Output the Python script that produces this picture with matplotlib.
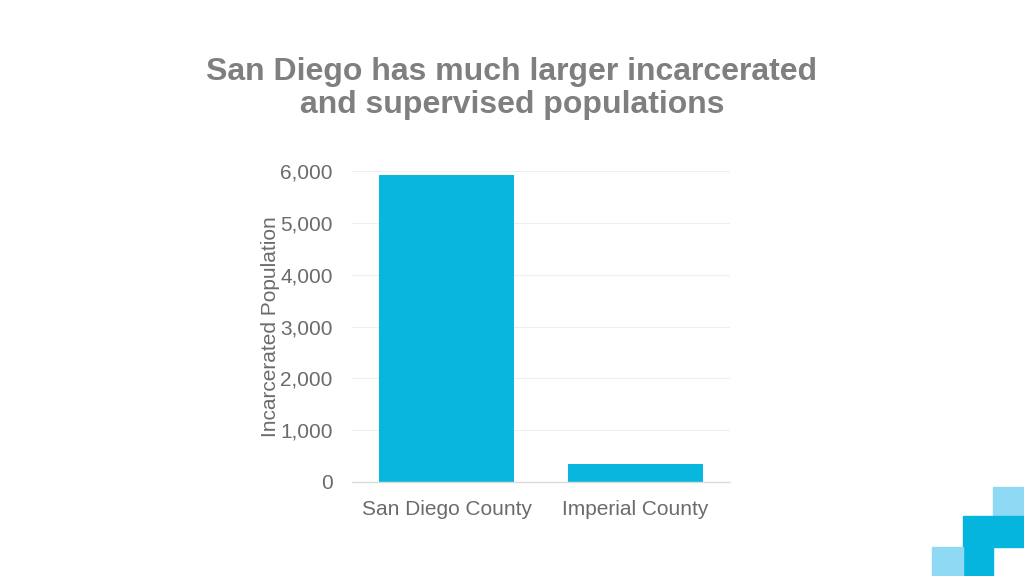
import matplotlib.pyplot as plt
from matplotlib.patches import Rectangle

# data
counties = ['San Diego County', 'Imperial County']
incarcerated = [5920, 345]
yticks = [0, 1000, 2000, 3000, 4000, 5000, 6000]

bar_color = '#08b6de'
text_gray = '#6b6b6b'

plt.rcParams['font.family'] = ['Liberation Sans', 'DejaVu Sans']

fig = plt.figure(figsize=(10.24, 5.76), dpi=100)
ax = fig.add_axes([0.3438, 0.1632, 0.3691, 0.5399])

ax.bar(range(len(counties)), incarcerated, width=0.714, color=bar_color, zorder=2)

ax.set_xlim(-0.5, 1.5)
ax.set_ylim(0, 6000)
ax.set_yticks(yticks)
ax.set_yticklabels([f'{v:,}' for v in yticks])
ax.set_xticks(range(len(counties)))
ax.set_xticklabels(counties)
ax.tick_params(axis='y', length=0, pad=14, labelsize=15, labelcolor=text_gray)
ax.tick_params(axis='x', length=0, pad=13, labelsize=15, labelcolor=text_gray)
ax.grid(axis='y', color='#efefef', linewidth=0.8, zorder=0)
for s in ['top', 'right', 'left']:
    ax.spines[s].set_visible(False)
ax.spines['bottom'].set_color('#dcdcdc')
ax.spines['bottom'].set_linewidth(1)
ax.set_ylabel('Incarcerated Population', fontsize=15, color=text_gray, labelpad=0)

fig.text(0.5, 0.847, 'San Diego has much larger incarcerated\nand supervised populations',
         ha='center', va='center', fontsize=23, fontweight='bold', color='#7f7f7f',
         linespacing=1.12)

# corner decoration
W, H = 1024, 576
def square(x0, y0, x1, y1, c):
    fig.patches.append(Rectangle((x0 / W, 1 - y1 / H), (x1 - x0) / W, (y1 - y0) / H,
                                 transform=fig.transFigure, color=c, zorder=0))
square(993, 487, 1024, 516, '#8fd9f5')
square(963, 516, 1024, 547, '#06b5dd')
square(963, 547, 993, 576, '#06b5dd')
square(932, 547, 963, 576, '#8fd9f5')

fig.savefig('out.png', dpi=100)
